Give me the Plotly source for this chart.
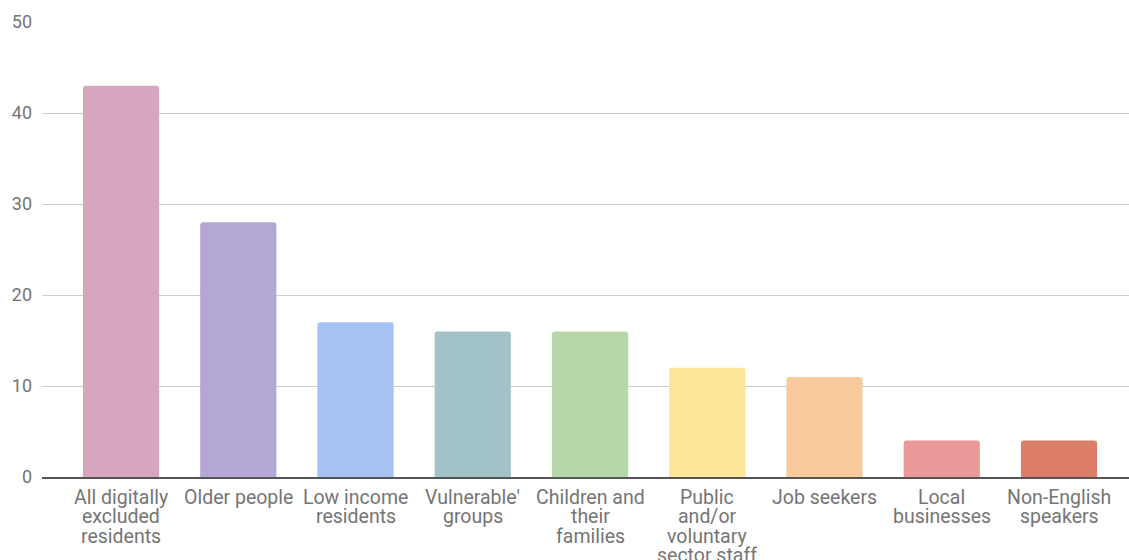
import plotly.graph_objects as go

categories = [
    "All digitally<br>excluded<br>residents",
    "Older people",
    "Low income<br>residents",
    "Vulnerable'<br>groups",
    "Children and<br>their<br>families",
    "Public<br>and/or<br>voluntary<br>sector staff",
    "Job seekers",
    "Local<br>businesses",
    "Non-English<br>speakers",
]
values = [43, 28, 17, 16, 16, 12, 11, 4, 4]
colors = ["#D5A6BD", "#B4A7D6", "#A4C2F4", "#A2C4C9", "#B6D7A8",
          "#FFE599", "#F9CB9C", "#EA9999", "#DD7E6B"]
y_ticks = [0, 10, 20, 30, 40, 50]

LABEL_SIZE = 19.5
LINE_STEP = 19.5
TEXT_GREY = "#757575"

positions = list(range(len(categories)))

fig = go.Figure(
    go.Bar(
        x=positions,
        y=values,
        marker=dict(color=colors, line=dict(width=0)),
        width=0.65,
        hoverinfo="skip",
    )
)

# Category labels, one annotation per line so the leading stays tight
for pos, label in zip(positions, categories):
    for k, line in enumerate(label.split("<br>")):
        fig.add_annotation(
            x=pos, y=0, xref="x", yref="y",
            text=line, showarrow=False,
            xanchor="center", yanchor="middle",
            yshift=-(20 + LINE_STEP * k),
            font=dict(size=LABEL_SIZE, color=TEXT_GREY),
        )

fig.update_layout(
    width=1129,
    height=560,
    autosize=False,
    margin=dict(l=42, r=0, t=22, b=83, autoexpand=False),
    paper_bgcolor="white",
    plot_bgcolor="white",
    showlegend=False,
    barcornerradius=3,
    font=dict(family="Roboto, sans-serif", size=18, color=TEXT_GREY),
)

fig.update_xaxes(
    range=[-0.674, 8.597],
    showgrid=False,
    showline=True,
    linecolor="#555555",
    linewidth=2,
    ticks="",
    showticklabels=False,
    automargin=False,
)

fig.update_yaxes(
    range=[0, 50],
    tickmode="array",
    tickvals=y_ticks,
    showgrid=True,
    gridcolor="#cccccc",
    gridwidth=1,
    zeroline=False,
    showline=False,
    ticks="",
    ticklabelstandoff=9,
    automargin=False,
    tickfont=dict(size=18, color=TEXT_GREY),
)

fig.write_html("out.html")
